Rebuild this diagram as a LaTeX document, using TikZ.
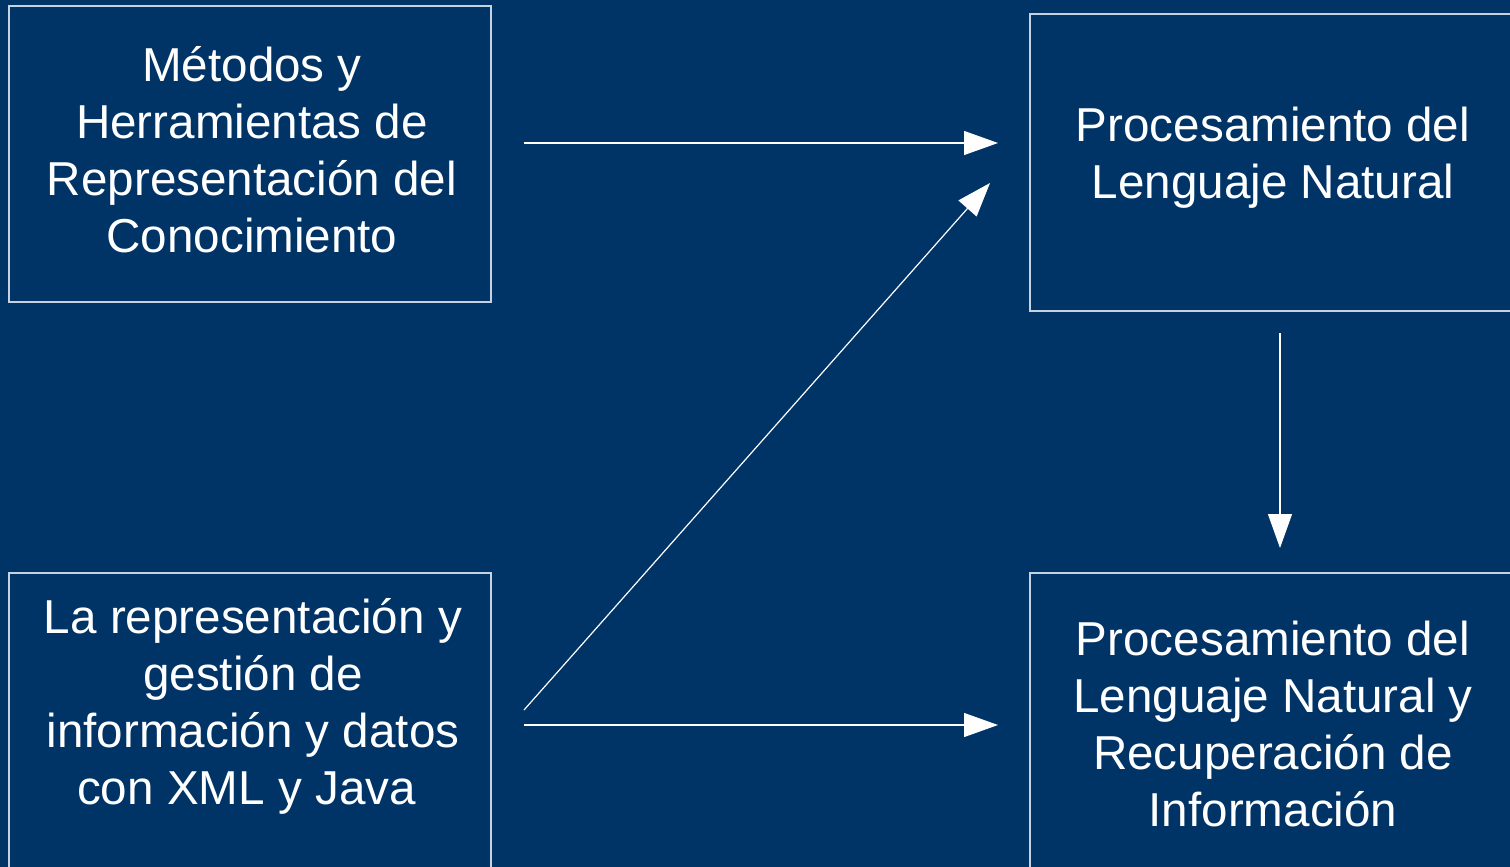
\documentclass[tikz,border=0pt]{standalone}
\usepackage{fontspec}
\setmainfont{Liberation Sans}
\usetikzlibrary{arrows.meta}
\definecolor{navy}{HTML}{003366}
\definecolor{edge}{HTML}{C4D2E2}
\begin{document}
\begin{tikzpicture}[x=1pt,y=-1pt,
  boxshape/.style={draw=edge,line width=1.3pt,rectangle,inner sep=0pt},
  label/.style={text=white,align=center,inner sep=0pt,
    font=\fontsize{47.6}{57}\selectfont},
  arr/.style={draw=white,line width=1.2pt,-{Triangle[length=34pt,width=24pt]}}]
  % background and page size
  \fill[navy] (0,0) rectangle (1510,867);
  \useasboundingbox (0,0) rectangle (1510,867);
  % boxes
  \node[boxshape,minimum width=482pt,minimum height=296pt] (b1) at (250,154) {};
  \node[boxshape,minimum width=486pt,minimum height=297pt] (b2) at (1273,162.5) {};
  \node[boxshape,minimum width=482pt,minimum height=300pt] (b3) at (250,723) {};
  \node[boxshape,minimum width=486pt,minimum height=300pt] (b4) at (1273,723) {};
  % labels
  \node[label] (t1) at (252,150) {Métodos y\\Herramientas de\\Representación del\\Conocimiento};
  \node[label] (t2) at (1273,157.5) {Procesamiento del\\Lenguaje Natural};
  \node[label] (t3) at (253,706) {La representación y\\gestión de\\información y datos\\con XML y Java\hspace*{13pt}};
  \node[label] (t4) at (1273,724) {Procesamiento del\\Lenguaje Natural y\\Recuperación de\\Información};
  % connector ends
  \coordinate (a1s) at (524,143);
  \coordinate (a1e) at (998,143);
  \coordinate (a2s) at (524,710);
  \coordinate (a2e) at (990,183);
  \coordinate (a3s) at (524,725);
  \coordinate (a3e) at (998,725);
  \coordinate (a4s) at (1280,333);
  \coordinate (a4e) at (1280,548);
  % connectors
  \draw[arr] (a1s) -- (a1e);
  \draw[arr] (a2s) -- (a2e);
  \draw[arr] (a3s) -- (a3e);
  \draw[arr] (a4s) -- (a4e);
\end{tikzpicture}
\end{document}
